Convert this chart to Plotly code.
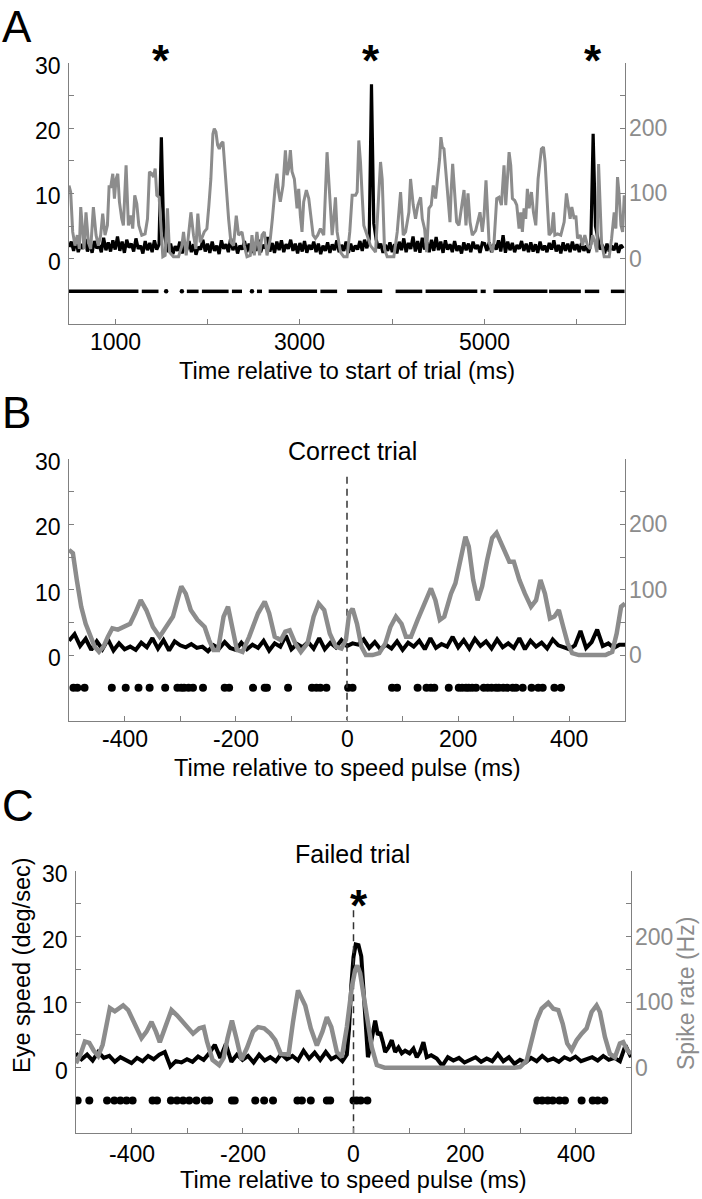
import plotly.graph_objects as go

FONT = "Liberation Sans, Arial, Helvetica, sans-serif"
GRAY = "#8c8c8c"
AXC = "#808080"

# ---------------- Panel A : whole trial ----------------
A_eye_time = list(range(500, 6501, 25))
A_eye_speed = [
    1.8, 2.6, 1.2, 2.9, 1.0, 2.2, 1.5, 3.0, 1.1, 2.4, 0.9, 2.7, 1.6, 2.1, 1.0, 3.2, 1.3, 2.5, 1.1, 2.8,
    1.4, 3.4, 1.2, 2.6, 0.9, 2.9, 1.7, 2.3, 1.1, 3.1, 1.5, 2.0, 0.8, 2.7, 1.3, 2.4, 1.0, 2.8, 1.4, 2.2,
    18.6, 4.2, 2.4, 1.0, 2.3, 0.7, 1.9, 1.2, 2.6, 0.8, 2.1, 1.3, 2.7, 1.0, 2.2, 0.6, 1.8, 1.4, 2.9, 1.1,
    2.3, 0.9, 2.6, 1.2, 2.0, 0.7, 2.8, 1.5, 2.2, 1.0, 3.1, 1.3, 2.4, 0.8, 2.0, 1.4, 2.7, 1.0, 2.3, 0.9,
    2.5, 1.2, 2.9, 1.0, 2.1, 1.6, 3.3, 1.1, 2.4, 0.9, 2.6, 1.3, 2.8, 1.0, 2.2, 1.5, 2.9, 1.2, 2.3, 0.8,
    2.4, 1.1, 2.7, 0.9, 2.1, 1.4, 2.6, 1.0, 2.3, 0.7, 2.0, 1.2, 2.5, 0.9, 2.2, 1.3, 2.8, 1.0, 2.1, 1.2,
    2.6, 0.9, 2.3, 1.1, 2.0, 1.4, 2.7, 1.2, 2.9, 1.6, 3.0, 26.7, 5.4, 3.0, 1.6, 2.3, 0.9, 2.1, 1.2, 2.5,
    1.0, 2.2, 0.8, 2.6, 1.3, 3.1, 1.0, 2.4, 1.5, 3.4, 1.1, 2.7, 0.9, 3.2, 1.4, 2.5, 1.0, 2.9, 1.2, 3.3,
    1.3, 2.6, 0.9, 2.8, 1.4, 2.2, 1.0, 2.7, 1.2, 2.0, 0.8, 2.5, 1.3, 2.3, 1.0, 2.6, 1.5, 2.1, 0.9, 2.4,
    2.3, 1.2, 2.5, 1.0, 2.2, 1.4, 2.8, 1.1, 3.6, 0.9, 2.6, 1.3, 2.4, 1.0, 2.1, 1.5, 2.7, 1.2, 2.3, 1.0,
    2.5, 1.1, 2.2, 0.9, 2.6, 1.3, 2.0, 1.0, 2.4, 1.4, 2.8, 1.1, 2.1, 0.8, 2.5, 1.2, 2.3, 1.0, 2.6, 1.3,
    2.2, 1.0, 2.4, 1.2, 2.0, 0.9, 2.3, 19.1, 5.0, 3.2, 1.4, 2.1, 0.8, 2.3, 1.1, 2.0, 1.3, 2.4, 0.9, 2.1,
    1.6,
]
A_rate_time = [
    500, 518, 540, 565, 590, 612, 627, 648, 663, 684,
    710, 735, 764, 793, 818, 843, 865, 890, 916, 934,
    952, 974, 992, 1010, 1028, 1046, 1071, 1089, 1118, 1143,
    1169, 1190, 1212, 1234, 1256, 1288, 1324, 1350, 1371, 1397,
    1415, 1433, 1451, 1476, 1498, 1516, 1541, 1566, 1588, 1631,
    1686, 1722, 1740, 1769, 1794, 1820, 1848, 1874, 1895, 1921,
    1964, 1993, 2015, 2036, 2058, 2073, 2091, 2109, 2127, 2145,
    2167, 2185, 2203, 2228, 2253, 2282, 2311, 2336, 2373, 2398,
    2427, 2463, 2481, 2506, 2535, 2564, 2590, 2615, 2644, 2680,
    2702, 2716, 2734, 2752, 2770, 2788, 2817, 2843, 2861, 2879,
    2897, 2915, 2940, 2969, 2987, 3005, 3023, 3041, 3070, 3096,
    3121, 3143, 3168, 3193, 3222, 3258, 3294, 3323, 3349, 3367,
    3385, 3403, 3439, 3475, 3511, 3540, 3566, 3602, 3620, 3638,
    3656, 3674, 3692, 3728, 3764, 3819, 3855, 3873, 3891, 3916,
    3945, 4017, 4054, 4090, 4119, 4144, 4180, 4198, 4227, 4252,
    4278, 4307, 4325, 4350, 4372, 4397, 4422, 4444, 4469, 4495,
    4513, 4527, 4542, 4560, 4578, 4603, 4625, 4639, 4654, 4675,
    4697, 4722, 4751, 4777, 4798, 4820, 4842, 4867, 4903, 4928,
    4950, 4975, 4994, 5015, 5030, 5048, 5084, 5102, 5131, 5156,
    5182, 5210, 5229, 5247, 5265, 5283, 5301, 5326, 5348, 5373,
    5391, 5409, 5427, 5445, 5463, 5482, 5507, 5529, 5554, 5579,
    5601, 5615, 5637, 5655, 5680, 5698, 5724, 5746, 5760, 5789,
    5825, 5861, 5886, 5904, 5926, 5944, 5970, 5988, 6006, 6035,
    6060, 6085, 6114, 6143, 6169, 6194, 6216, 6234, 6252, 6266,
    6295, 6349, 6375, 6403, 6421, 6439, 6457, 6476, 6494, 6512,
]
A_rate_hz = [
    112, 102, 41, 20, 36, 15, 79, 36, 15, 71,
    25, 15, 79, 36, 20, 36, 69, 36, 51, 110,
    110, 130, 92, 122, 130, 87, 61, 51, 143, 51,
    66, 46, 97, 84, 51, 36, 38, 61, 133, 130,
    125, 138, 97, 94, 46, 3, 5, 77, 10, 3,
    3, 20, 41, 5, 36, 71, 36, 15, 69, 25,
    41, 46, 82, 122, 191, 199, 194, 174, 168, 176,
    179, 143, 107, 61, 25, 20, 66, 36, 41, 20,
    3, 5, 36, 5, 41, 5, 36, 41, 5, 31,
    61, 87, 112, 130, 102, 87, 112, 166, 128, 138,
    166, 133, 122, 77, 107, 66, 41, 87, 105, 92,
    56, 36, 31, 36, 46, 36, 163, 97, 36, 61,
    94, 41, 10, 3, 3, 41, 97, 97, 102, 181,
    148, 97, 51, 36, 20, 10, 97, 148, 122, 15,
    3, 3, 41, 102, 36, 41, 71, 122, 82, 61,
    82, 94, 61, 46, 10, 77, 82, 112, 92, 128,
    153, 186, 171, 168, 133, 92, 56, 107, 145, 102,
    56, 51, 82, 105, 51, 100, 56, 36, 43, 61,
    71, 41, 66, 120, 77, 25, 10, 25, 92, 94,
    82, 143, 82, 122, 163, 143, 92, 89, 82, 46,
    71, 41, 77, 61, 107, 77, 102, 71, 51, 122,
    153, 168, 171, 148, 82, 36, 41, 71, 36, 38,
    36, 56, 100, 82, 61, 79, 61, 66, 31, 36,
    20, 36, 20, 15, 36, 25, 10, 145, 82, 25,
    3, 3, 31, 71, 46, 125, 97, 51, 41, 97,
]
A_run_start = [500, 1288, 1776, 1939, 2264, 2535, 2662, 3222, 3511, 4036, 4361, 4957, 5095, 5698, 6085, 6367]
A_run_end = [1252, 1469, 1903, 2228, 2373, 2590, 3186, 3403, 3891, 4325, 4921, 5012, 5680, 6042, 6241, 6515]
A_single_spikes = [1552, 1722, 2481]
A_saccades = [1500, 3775, 6175]

# ---------------- Panel B : correct trial ----------------
B_eye_time = list(range(-500, 501, 10))
B_eye_speed = [
    2.2, 3.2, 1.4, 2.5, 0.8, 2.1, 0.9, 2.4, 0.7, 1.8,
    0.9, 1.3, 0.8, 1.9, 1.2, 2.6, 1.0, 2.3, 0.7, 2.1,
    1.5, 1.2, 1.7, 1.1, 1.3, 0.6, 1.5, 1.0, 2.0, 1.1,
    0.8, 1.9, 0.9, 1.6, 1.1, 2.2, 0.7, 1.8, 1.3, 3.0,
    0.9, 1.7, 1.2, 2.0, 1.0, 2.6, 0.9, 1.9, 1.2, 2.3,
    1.4, 1.8, 1.6, 2.4, 1.1, 2.0, 0.9, 1.6, 1.0, 2.1,
    0.8, 1.9, 1.3, 2.2, 0.9, 2.6, 1.1, 1.7, 1.3, 2.8,
    1.2, 2.3, 1.0, 2.5, 1.4, 2.1, 1.0, 2.4, 1.2, 1.8,
    1.1, 2.6, 0.9, 2.2, 1.3, 1.9, 1.0, 2.4, 1.5, 1.2,
    0.9, 1.5, 3.7, 1.1, 2.0, 3.9, 1.4, 1.8, 1.1, 1.6,
    1.6,
]
B_rate_time = [
    -500, -493, -486, -478, -470, -462, -454, -446, -438, -430,
    -422, -412, -402, -390, -381, -371, -361, -349, -337, -325,
    -313, -305, -298, -290, -281, -269, -256, -248, -240, -232,
    -222, -214, -206, -198, -188, -176, -160, -148, -140, -130,
    -119, -111, -103, -93, -83, -71, -60, -51, -41, -31,
    -20, -10, -2, 4, 10, 18, 26, 34, 46, 58,
    69, 78, 88, 98, 106, 115, 127, 139, 151, 159,
    167, 175, 187, 195, 203, 213, 219, 227, 235, 243,
    252, 261, 269, 277, 286, 292, 300, 310, 320, 331,
    340, 348, 356, 365, 373, 381, 389, 397, 405, 417,
    465, 477, 485, 493, 500,
]
B_rate_hz = [
    161, 156, 115, 74, 48, 28, 13, 5, 13, 28,
    41, 39, 44, 48, 64, 84, 69, 43, 28, 43,
    59, 84, 105, 94, 69, 54, 43, 23, 8, 8,
    59, 74, 43, 8, 5, 28, 64, 82, 64, 28,
    23, 36, 38, 18, 5, 18, 59, 79, 69, 33,
    13, 10, 23, 64, 71, 48, 13, 0, 0, 3,
    18, 43, 59, 48, 28, 28, 54, 79, 102, 84,
    54, 59, 94, 110, 145, 181, 166, 115, 84, 105,
    145, 179, 187, 171, 151, 143, 143, 115, 94, 74,
    84, 115, 94, 56, 59, 69, 43, 18, 3, 0,
    0, 5, 33, 74, 79,
]
B_spikes = [-492, -485, -472, -423, -398, -375, -355, -327, -305, -298, -293, -285, -277, -259,
            -220, -212, -169, -148, -144, -106, -63, -55, -48, -37, 2, 10, 81, 90, 127, 143,
            151, 157, 183, 201, 207, 214, 219, 225, 232, 246, 253, 260, 268, 273, 281, 288,
            298, 304, 316, 332, 344, 352, 373, 385]

# ---------------- Panel C : failed trial ----------------
C_eye_time = (list(range(-500, -19, 10))
              + [-12, -8, -4, 0, 4, 9, 14, 18, 22, 26, 30, 35, 39, 44, 48, 53, 57, 63, 69, 75,
                 81, 87, 93, 101, 108, 114, 120, 126, 132]
              + list(range(140, 501, 10)))
C_eye_speed = [
    2.2, 1.3, 2.0, 1.1, 2.4, 1.5, 1.8, 0.9, 1.6, 1.2,
    0.7, 1.5, 1.0, 1.8, 1.3, 2.0, 2.4, 0.2, 1.0, 0.8,
    1.3, 0.9, 1.7, 1.2, 2.2, 3.5, 1.5, 3.6, 0.9, 2.0,
    1.2, 1.8, 0.8, 2.0, 1.1, 1.6, 1.0, 2.1, 1.3, 1.8,
    1.1, 2.6, 1.4, 2.3, 1.2, 2.4, 1.3, 1.8, 1.0,
    2.0, 6.0, 12.5, 16.9, 18.8, 18.7, 17.0, 12.0, 5.5, 1.6,
    3.1, 5.2, 7.2, 5.0, 5.4, 3.9, 2.4, 3.1, 4.2, 2.4,
    3.1, 2.2, 2.6, 2.2, 2.9, 1.6, 2.4, 3.9, 1.6,
    1.9, 1.4, 0.3, 1.6, 1.1, 1.5, 0.8, 1.2, 1.6, 0.9,
    1.4, 1.0, 2.1, 1.0, 1.6, 0.6, 1.2, 0.8, 1.5, 1.0,
    1.8, 1.1, 1.4, 0.9, 1.6, 1.2, 1.7, 1.0, 1.3, 1.6,
    1.1, 1.8, 1.2, 1.5, 1.0, 3.4, 1.6,
]
C_rate_time = [
    -500, -492, -484, -476, -468, -460, -452, -445, -439, -430,
    -422, -415, -406, -395, -382, -373, -364, -356, -349, -340,
    -328, -318, -310, -300, -289, -278, -270, -264, -254, -242,
    -234, -227, -219, -211, -202, -192, -181, -172, -161, -150,
    -141, -131, -117, -109, -100, -87, -77, -66, -56, -48,
    -40, -30, -21, -12, -3, 3, 7, 12, 18, 24,
    33, 42, 56, 290, 300, 312, 321, 330, 339, 351,
    360, 369, 377, 385, 393, 402, 411, 420, 429, 438,
    444, 453, 462, 471, 480, 486, 493, 500,
]
C_rate_hz = [
    7, 20, 40, 38, 26, 18, 35, 70, 91, 86,
    92, 95, 88, 70, 45, 55, 70, 55, 39, 60,
    88, 80, 72, 64, 52, 60, 62, 40, 12, 4,
    15, 45, 72, 45, 12, 30, 55, 62, 60, 52,
    42, 21, 20, 70, 118, 95, 60, 34, 55, 77,
    62, 24, 16, 62, 123, 149, 156, 144, 113, 72,
    31, 4, 0, 0, 1, 11, 42, 72, 90, 99,
    90, 88, 67, 37, 27, 42, 52, 60, 85, 95,
    85, 47, 21, 16, 37, 39, 27, 21,
]
C_spikes = [-497, -476, -444, -431, -420, -409, -398, -362, -354, -329, -318, -307, -296, -283,
            -268, -260, -219, -214, -177, -161, -145, -101, -93, -77, -48, -42, 0, 6, 13, 25,
            331, 340, 350, 359, 371, 381, 411, 431, 440, 452]
C_saccades = [10]

RASTER_Y = -5

# tick values / labels
LEFT_TV = [0, 5, 10, 15, 20, 25, 30]
LEFT_TT = ["0", "", "10", "", "20", "", "30"]
RIGHT_TV = [0, 50, 100, 150, 200, 250, 300]
RIGHT_TT = ["0", "", "100", "", "200", "", ""]
A_XTV = [1000, 2000, 3000, 4000, 5000, 6000]
A_XTT = ["1000", "", "3000", "", "5000", ""]
P_XTV = [-400, -300, -200, -100, 0, 100, 200, 300, 400]
P_XTT = ["-400", "", "-200", "", "0", "", "200", "", "400"]

# ---------------- figure ----------------
fig = go.Figure()


def line(x, y, xa, ya, color, width, dash=None):
    fig.add_trace(go.Scatter(x=x, y=y, mode="lines", xaxis=xa, yaxis=ya,
                             line=dict(color=color, width=width, dash=dash),
                             hoverinfo="skip", showlegend=False))


def dots(x, xa, ya, size):
    fig.add_trace(go.Scatter(x=x, y=[RASTER_Y] * len(x), mode="markers", xaxis=xa, yaxis=ya,
                             marker=dict(color="black", size=size), hoverinfo="skip",
                             showlegend=False, cliponaxis=True))


# Panel A
line(A_rate_time, A_rate_hz, "x", "y2", GRAY, 3)
line(A_eye_time, A_eye_speed, "x", "y", "black", 3.2)
run_x, run_y = [], []
for s, e in zip(A_run_start, A_run_end):
    run_x += [s, e, None]
    run_y += [RASTER_Y, RASTER_Y, None]
line(run_x, run_y, "x", "y", "black", 3.5)
dots(A_single_spikes, "x", "y", 4.5)

# Panel B
line(B_rate_time, B_rate_hz, "x2", "y4", GRAY, 4.5)
line(B_eye_time, B_eye_speed, "x2", "y3", "black", 4)
dots(B_spikes, "x2", "y3", 8)
line([0, 0], [27.3, -10], "x2", "y3", "#333333", 1.5, dash="7px,5px")

# Panel C
line(C_rate_time, C_rate_hz, "x3", "y6", GRAY, 4.5)
line(C_eye_time, C_eye_speed, "x3", "y5", "black", 4)
dots(C_spikes, "x3", "y5", 8)
line([0, 0], [24, -10], "x3", "y5", "#333333", 1.5, dash="7px,5px")

W, H = 702, 1199


def px_x(v):
    return v / W


def px_y(v):
    return 1 - v / H


def xaxis(left, right, anchor, rng, tv):
    return dict(domain=[px_x(left), px_x(right)], anchor=anchor, range=rng,
                tickvals=tv, showticklabels=False, showline=True, linecolor=AXC, linewidth=1,
                ticks="inside", ticklen=5, tickcolor=AXC, showgrid=False, zeroline=False,
                fixedrange=True)


def yleft(top, bottom, anchor):
    return dict(domain=[px_y(bottom), px_y(top)], anchor=anchor, range=[-10, 30],
                tickvals=LEFT_TV, showticklabels=False, showline=True, linecolor=AXC, linewidth=1,
                ticks="inside", ticklen=5, tickcolor=AXC, showgrid=False, zeroline=False,
                fixedrange=True)


def yright(over, anchor):
    return dict(overlaying=over, anchor=anchor, side="right", range=[-100, 300],
                tickvals=RIGHT_TV, showticklabels=False, showline=True, linecolor=AXC, linewidth=1,
                ticks="inside", ticklen=5, tickcolor=AXC, showgrid=False, zeroline=False,
                fixedrange=True)


PANELS = [
    # (x axis, left y, right y, left px, right px, top px, bottom px, x range, x tick vals, x tick text, tick label y px)
    ("x", "y", "y2", 69, 625, 62.7, 324, [500, 6520], A_XTV, A_XTT, 342),
    ("x2", "y3", "y4", 69, 625, 459, 720.5, [-500, 500], P_XTV, P_XTT, 739),
    ("x3", "y5", "y6", 76, 631, 871, 1133.3, [-500, 500], P_XTV, P_XTT, 1154),
]

layout_axes = {}
for xa, yl, yr, l, r, t, b, rng, xtv, xtt, lab_y in PANELS:
    layout_axes["xaxis" + xa[1:]] = xaxis(l, r, yl, rng, xtv)
    layout_axes["yaxis" + yl[1:]] = yleft(t, b, xa)
    layout_axes["yaxis" + yr[1:]] = yright(yl, xa)

fig.update_layout(
    width=W, height=H, margin=dict(l=0, r=0, t=0, b=0),
    paper_bgcolor="white", plot_bgcolor="white", showlegend=False,
    font=dict(family=FONT, color="black"),
    **layout_axes,
)

ann = []


def text(x, y, s, size, color="black", angle=0, xref="paper", yref="paper",
         xanchor="center", yshift=0):
    ann.append(dict(x=x, y=y, xref=xref, yref=yref, text=s, showarrow=False,
                    font=dict(family=FONT, size=size, color=color), textangle=angle,
                    xanchor=xanchor, yanchor="middle", yshift=yshift))


TICK_FS = 23
for xa, yl, yr, l, r, t, b, rng, xtv, xtt, lab_y in PANELS:
    for v, s in zip(xtv, xtt):
        if s:
            text(v, px_y(lab_y), s, TICK_FS, xref=xa)
    for v, s in zip(LEFT_TV, LEFT_TT):
        if s:
            text(px_x(l - 6), v, s, TICK_FS, yref=yl, xanchor="right", yshift=-3)
    for v, s in zip(RIGHT_TV, RIGHT_TT):
        if s:
            text(px_x(r + 2), v, s, TICK_FS, color=GRAY, yref=yr, xanchor="left")

# panel letters
text(px_x(0), px_y(26), "A", 44, xanchor="left")
text(px_x(0), px_y(412), "B", 44, xanchor="left")
text(px_x(0), px_y(805), "C", 44, xanchor="left")
# saccade asterisks
for t_ in A_saccades:
    text(t_, px_y(60), "<b>*</b>", 44, xref="x")
for t_ in C_saccades:
    text(t_, px_y(905), "<b>*</b>", 44, xref="x3")
# titles and axis labels
text(px_x(353), px_y(451), "Correct trial", 25)
text(px_x(353), px_y(854), "Failed trial", 25)
text(px_x(347), px_y(371), "Time relative to start of trial (ms)", 23.5)
text(px_x(347), px_y(768), "Time relative to speed pulse (ms)", 23.5)
text(px_x(353.5), px_y(1180), "Time relative to speed pulse (ms)", 23.5)
text(px_x(22), px_y(965), "Eye speed (deg/sec)", 23.5, angle=-90)
text(px_x(686), px_y(994), "Spike rate (Hz)", 23, color=GRAY, angle=-90)
fig.update_layout(annotations=ann)

fig.write_html("out.html", config={"displayModeBar": False},
               post_script="document.body.style.margin='0px';")
